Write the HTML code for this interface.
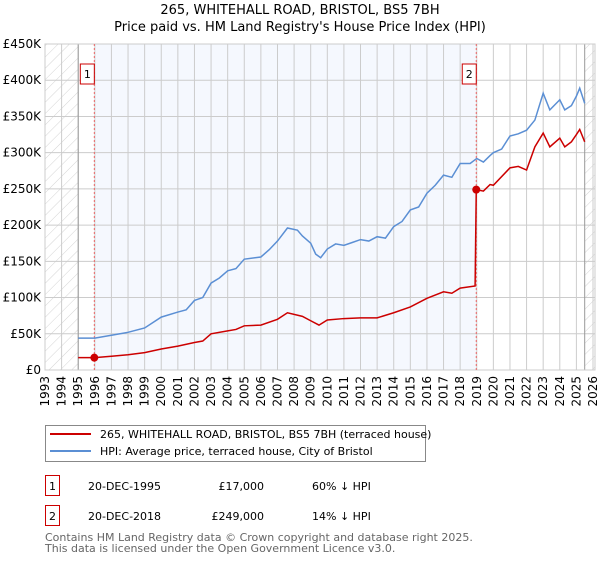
<!DOCTYPE html>
<html><head><meta charset="utf-8"><style>
body{margin:0;background:#fff;width:600px;height:560px;overflow:hidden;font-family:"DejaVu Sans","Liberation Sans",sans-serif;}
svg text{font-family:"DejaVu Sans","Liberation Sans",sans-serif;}
</style></head><body>
<svg id="chart" width="600" height="560" xmlns="http://www.w3.org/2000/svg">
<defs><pattern id="hatch" width="8" height="8" patternUnits="userSpaceOnUse" patternTransform="rotate(45)"><line x1="0" y1="0" x2="0" y2="8" stroke="#d4d4d4" stroke-width="1"/></pattern></defs>
<text x="300" y="14" text-anchor="middle" font-size="13">265, WHITEHALL ROAD, BRISTOL, BS5 7BH</text>
<text x="300" y="31" text-anchor="middle" font-size="13">Price paid vs. HM Land Registry's House Price Index (HPI)</text>
<g id="plot"></g>
<g>
<rect x="45.5" y="425.5" width="380" height="36" fill="#fff" stroke="#888"/>
<line x1="50" y1="434" x2="91" y2="434" stroke="#cc0000" stroke-width="2"/>
<text x="100" y="438" font-size="11">265, WHITEHALL ROAD, BRISTOL, BS5 7BH (terraced house)</text>
<line x1="50" y1="451" x2="91" y2="451" stroke="#5b8fd4" stroke-width="2"/>
<text x="100" y="455" font-size="11">HPI: Average price, terraced house, City of Bristol</text>
</g>
<g font-size="11">
<rect x="45.5" y="475.5" width="14" height="20" fill="#fff" stroke="#cc0000"/>
<text x="52.5" y="490" text-anchor="middle">1</text>
<text x="88" y="490">20-DEC-1995</text><text x="264" y="490" text-anchor="end">£17,000</text><text x="312" y="490">60% ↓ HPI</text>
<rect x="45.5" y="505.5" width="14" height="20" fill="#fff" stroke="#cc0000"/>
<text x="52.5" y="520" text-anchor="middle">2</text>
<text x="88" y="520">20-DEC-2018</text><text x="264" y="520" text-anchor="end">£249,000</text><text x="312" y="520">14% ↓ HPI</text>
</g>
<text x="45" y="541" font-size="11" fill="#666">Contains HM Land Registry data © Crown copyright and database right 2025.</text>
<text x="45" y="552" font-size="11" fill="#666">This data is licensed under the Open Government Licence v3.0.</text>
</svg>
<script>
const hpiYears=[1995,1996,1997,1998,1999,2000,2001,2001.5,2002,2002.5,2003,2003.5,2004,2004.5,2005,2006,2006.5,2007,2007.6,2008.2,2008.5,2009,2009.3,2009.6,2010,2010.5,2011,2011.5,2012,2012.5,2013,2013.5,2014,2014.5,2015,2015.5,2016,2016.5,2017,2017.5,2018,2018.6,2019,2019.4,2019.8,2020,2020.5,2021,2021.5,2022,2022.5,2023,2023.4,2024,2024.3,2024.7,2025,2025.2,2025.5];
const hpiValues=[44,44,48,52,58,73,80,83,96,100,120,127,137,140,153,156,166,178,196,193,185,175,160,155,167,174,172,176,180,178,184,182,198,205,221,225,244,255,269,266,285,285,292,287,296,300,305,323,326,331,345,382,359,373,359,365,378,389,368];
const redYears=[1995,1996,1997,1998,1999,2000,2001,2002,2002.5,2003,2004,2004.5,2005,2006,2007,2007.6,2008.5,2009,2009.5,2010,2011,2012,2013,2014,2015,2016,2017,2017.5,2018,2018.9,2018.97,2019.4,2019.8,2020,2021,2021.5,2022,2022.5,2023,2023.4,2024,2024.3,2024.7,2025,2025.2,2025.5];
const redValues=[17,17,19,21,24,29,33,38,40,50,54,56,61,62,70,79,74,68,62,69,71,72,72,79,87,99,108,106,113,116,249,247,256,255,279,281,276,308,327,308,320,308,315,325,332,315];
const saleYears=[1995.97,2018.97];
const saleValues=[17,249];
const saleLabels=["1","2"];
const yTicks=[0,50,100,150,200,250,300,350,400,450];
const yTickLabels=["£0","£50K","£100K","£150K","£200K","£250K","£300K","£350K","£400K","£450K"];
const xTicks=[];for(let y=1993;y<=2026;y++)xTicks.push(y);

const X0=45,X1=595,Y0=370,Y1=44;
const xs=y=>X0+(y-1993)*(X1-2-X0)/33;
const ys=v=>Y0-(v/450)*(Y0-Y1);
const NS="http://www.w3.org/2000/svg";
const g=document.getElementById('plot');
function mk(t,a,p){const e=document.createElementNS(NS,t);for(const k in a)e.setAttribute(k,a[k]);(p||g).appendChild(e);return e;}

const bg=mk('rect',{x:X0,y:Y1,width:X1-X0,height:Y0-Y1,fill:'#fff'});


const shade=mk('rect',{x:xs(saleYears[0]),y:Y1,width:xs(saleYears[1])-xs(saleYears[0]),height:Y0-Y1,fill:'#f5f8fe'});


const h1=mk('rect',{x:X0,y:Y1,width:xs(1995)-X0,height:Y0-Y1,fill:'url(#hatch)'});


const h2=mk('rect',{x:xs(2025.5),y:Y1,width:X1-xs(2025.5),height:Y0-Y1,fill:'url(#hatch)'});



yTicks.forEach((v,i)=>{
  const l=mk('line',{x1:X0,x2:X1,y1:ys(v),y2:ys(v),stroke:'#ccc','stroke-width':1});
  
  
  const t=mk('text',{x:X0-4,y:ys(v)+4,'text-anchor':'end','font-size':12});
  t.textContent=yTickLabels[i];
  
  
});
xTicks.forEach(yr=>{
  const l=mk('line',{x1:xs(yr),x2:xs(yr),y1:Y1,y2:Y0,stroke:'#ccc','stroke-width':1});
  
  
  const t=mk('text',{x:0,y:0,'text-anchor':'end','font-size':12,transform:`translate(${xs(yr)+4},${Y0+6}) rotate(-90)`});
  t.textContent=yr;
  
  
});
[xs(1995),xs(2025.5)].forEach(x=>{const l=mk('line',{x1:x,x2:x,y1:Y1,y2:Y0,stroke:'#999','stroke-width':1});

});
const fr=mk('rect',{x:X0,y:Y1,width:X1-X0,height:Y0-Y1,fill:'none',stroke:'#ccc'});



saleYears.forEach((yr,i)=>{
  const l=mk('line',{x1:xs(yr),x2:xs(yr),y1:Y1,y2:Y0,stroke:'#e66','stroke-width':1,'stroke-dasharray':'2,2'});
  
  
  const r=mk('rect',{x:xs(yr)-14,y:64,width:14,height:20,fill:'#fff',stroke:'#cc0000'});
  
  
  const t=mk('text',{x:xs(yr)-7,y:78,'text-anchor':'middle','font-size':11});
  t.textContent=saleLabels[i];
  
  
});

const hp=mk('polyline',{points:hpiYears.map((y,i)=>xs(y)+','+ys(hpiValues[i])).join(' '),fill:'none',stroke:'#5b8fd4','stroke-width':1.5});


const rp=mk('polyline',{points:redYears.map((y,i)=>xs(y)+','+ys(redValues[i])).join(' '),fill:'none',stroke:'#cc0000','stroke-width':1.5});


saleYears.forEach((yr,i)=>{
  const c=mk('circle',{cx:xs(yr),cy:ys(saleValues[i]),r:4,fill:'#cc0000'});
  
  
});
</script>
</body></html>
